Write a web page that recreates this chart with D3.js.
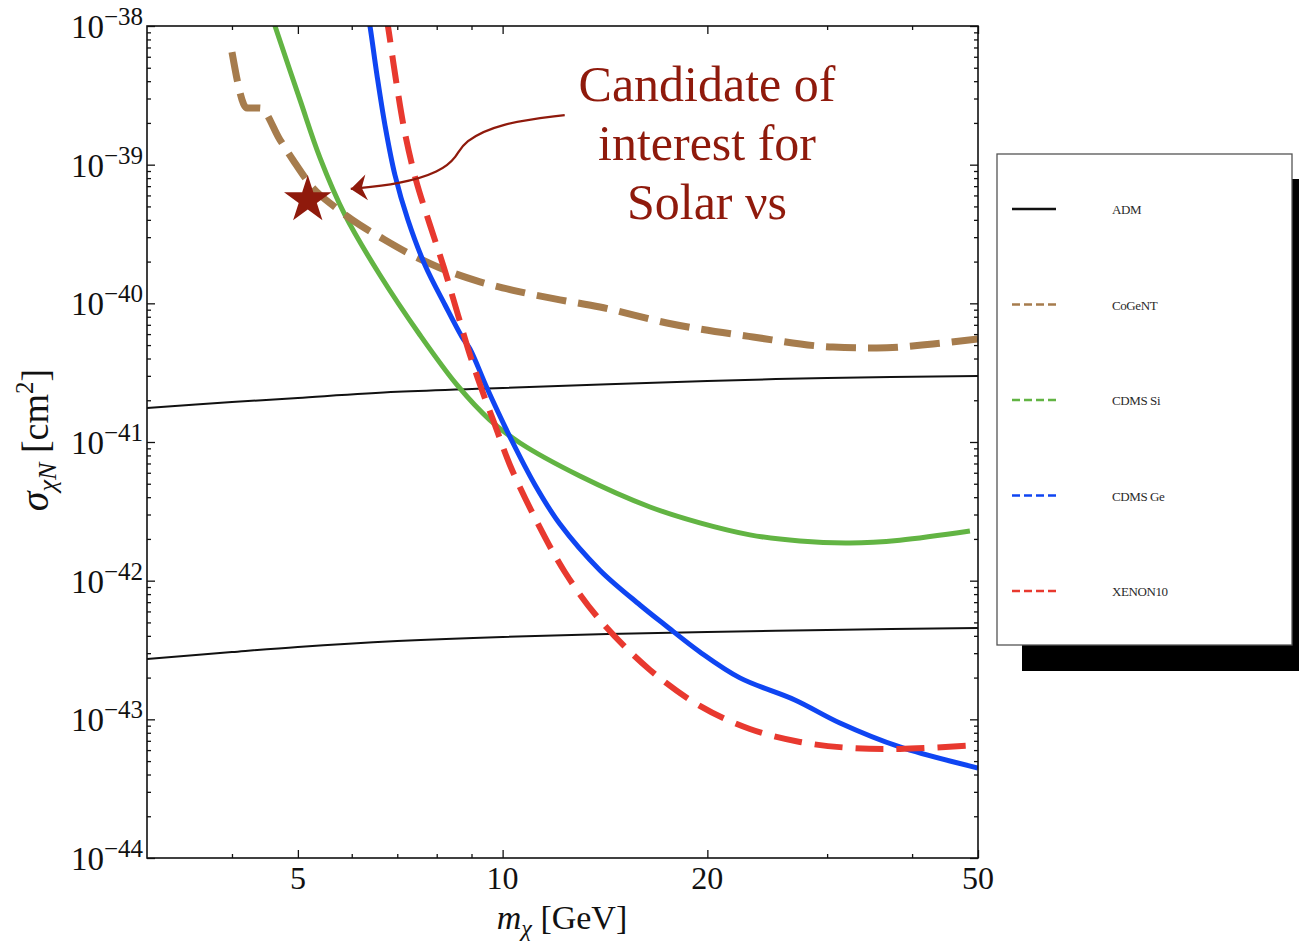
<!DOCTYPE html>
<html>
<head>
<meta charset="utf-8">
<script src="https://cdn.jsdelivr.net/npm/d3@7"></script>
<style>
  html, body { margin: 0; padding: 0; background: #ffffff; }
  svg { display: block; }
  text { font-family: "Liberation Serif", "DejaVu Serif", serif; }
</style>
</head>
<body>
<svg id="chart" width="1299" height="942"></svg>
<script>
// ---- data: dark-matter mass m_chi [GeV] vs. nucleon cross section [cm^2] ----
const admUpperMass  = [3, 4, 5, 7, 10, 20, 30, 50];
const admUpperSigma = [1.76e-41, 1.94e-41, 2.08e-41, 2.30e-41, 2.45e-41, 2.75e-41, 2.90e-41, 2.99e-41];

const admLowerMass  = [3, 4, 5, 7, 10, 20, 30, 50];
const admLowerSigma = [2.72e-43, 3.06e-43, 3.33e-43, 3.67e-43, 3.93e-43, 4.27e-43, 4.41e-43, 4.56e-43];

const cogentMass  = [4.000, 4.209, 4.398, 4.706, 4.918, 5.263, 5.668, 6.169, 6.601, 7.307, 8.091, 9.262,
                     10.61, 12.14, 13.90, 17.44, 23.34, 30.59, 35.50, 42.92, 50];
const cogentSigma = [6.49e-39, 2.56e-39, 2.56e-39, 1.51e-39, 1.08e-39, 6.79e-40, 4.95e-40, 3.67e-40, 3.01e-40, 2.27e-40,
                     1.80e-40, 1.43e-40, 1.21e-40, 1.06e-40, 9.41e-41, 7.22e-41, 5.72e-41, 4.84e-41, 4.76e-41, 5.09e-41, 5.53e-41];

const cdmsSiMass  = [4.55, 4.627, 5.036, 5.389, 5.863, 6.601, 7.559, 8.569, 9.580, 10.61, 12.99, 16.47,
                     19.50, 23.10, 27.36, 32.41, 38.38, 48.65];
const cdmsSiSigma = [1.30e-38, 1.0e-38, 2.93e-39, 1.12e-39, 4.34e-40, 1.60e-40, 5.91e-41, 2.58e-41, 1.44e-41, 9.84e-42,
                     5.69e-42, 3.40e-42, 2.61e-42, 2.14e-42, 1.93e-42, 1.87e-42, 1.96e-42, 2.28e-42];

const cdmsGeMass  = [6.338, 6.382, 6.535, 6.714, 6.945, 7.258, 7.688, 8.229, 8.715, 8.954, 9.484, 10.25,
                     11.16, 12.14, 13.90, 15.92, 17.33, 19.50, 22.33, 26.90, 31.33, 38.38, 50];
const cdmsGeSigma = [1.20e-38, 1.0e-38, 4.43e-39, 1.93e-39, 8.42e-40, 3.99e-40, 1.89e-40, 9.73e-41, 5.72e-41, 4.69e-41,
                     2.45e-41, 1.09e-41, 4.90e-42, 2.56e-42, 1.19e-42, 6.68e-43, 4.79e-43, 3.06e-43, 1.99e-43, 1.38e-43,
                     9.41e-44, 6.32e-44, 4.46e-44];

const xenonMass  = [6.737, 6.782, 6.969, 7.184, 7.457, 7.820, 8.201, 8.598, 8.954, 9.324, 9.743, 10.25,
                    11.16, 12.35, 13.90, 16.47, 19.50, 23.10, 27.36, 32.41, 38.38, 50];
const xenonSigma = [1.20e-38, 1.0e-38, 4.08e-39, 1.69e-39, 7.75e-40, 3.67e-40, 1.80e-40, 8.24e-41, 4.24e-41, 2.37e-41,
                    1.33e-41, 6.83e-42, 2.83e-42, 1.15e-42, 5.21e-43, 2.27e-43, 1.25e-43, 8.52e-44, 6.87e-44, 6.22e-44,
                    6.11e-44, 6.53e-44];

// highlighted candidate point and the pointer leading to it
const candidateMass  = [5.17];
const candidateSigma = [5.56e-40];
const pointerMass  = [12.34, 9.90, 8.74, 8.57, 8.09, 7.07, 5.98];
const pointerSigma = [2.28e-39, 2.00e-39, 1.46e-39, 1.14e-39, 8.85e-40, 7.26e-40, 6.68e-40];
const noteLines = ["Candidate of", "interest for", "Solar \u03BDs"];

// axis ticks
const xMajorTicks = [5, 10, 20, 50];
const xMinorTicks = [4, 6, 7, 8, 9, 30, 40];
const yExponents  = [-44, -43, -42, -41, -40, -39, -38];

const legendNames = ["ADM", "CoGeNT", "CDMS Si", "CDMS Ge", "XENON10"];

// ---- layout ----
const svg = d3.select("#chart");
const plot = { left: 147, top: 26, right: 978, bottom: 858 };

const x = d3.scaleLog().domain([3, 50]).range([plot.left, plot.right]);
const y = d3.scaleLog().domain([1e-44, 1e-38]).range([plot.bottom, plot.top]);

const colors = {
  adm: "#111111",
  cogent: "#a67c4d",
  si: "#62b443",
  ge: "#0f45f2",
  xenon: "#e8392f",
  note: "#8f1a0c"
};

svg.append("defs").append("clipPath").attr("id", "plotClip")
  .append("rect")
  .attr("x", plot.left).attr("y", plot.top)
  .attr("width", plot.right - plot.left).attr("height", plot.bottom - plot.top);

// ---- curves ----
const zip = (ms, ss) => ms.map((m, i) => [m, ss[i]]);
const smoothLine = d3.line()
  .x(d => x(d[0]))
  .y(d => y(d[1]))
  .curve(d3.curveCatmullRom.alpha(0.5));
const stepLine = d3.line()
  .x(d => x(d[0]))
  .y(d => y(d[1]))
  .curve(d3.curveMonotoneX);

const curves = svg.append("g").attr("clip-path", "url(#plotClip)");

const series = [
  { data: zip(admUpperMass, admUpperSigma), gen: smoothLine, color: colors.adm, width: 2, dash: null },
  { data: zip(admLowerMass, admLowerSigma), gen: smoothLine, color: colors.adm, width: 2, dash: null },
  { data: zip(cdmsSiMass, cdmsSiSigma), gen: smoothLine, color: colors.si, width: 5, dash: null },
  { data: zip(cogentMass, cogentSigma), gen: stepLine, color: colors.cogent, width: 7, dash: "30,12" },
  { data: zip(cdmsGeMass, cdmsGeSigma), gen: smoothLine, color: colors.ge, width: 5, dash: null },
  { data: zip(xenonMass, xenonSigma), gen: smoothLine, color: colors.xenon, width: 6, dash: "28,13" }
];

series.forEach(s => {
  curves.append("path")
    .datum(s.data)
    .attr("d", s.gen)
    .attr("fill", "none")
    .attr("stroke", s.color)
    .attr("stroke-width", s.width)
    .attr("stroke-dasharray", s.dash)
    .attr("stroke-linejoin", "round");
});

// ---- frame and ticks ----
const minorY = [];
for (let e = -44; e < -38; e++) {
  for (let k = 2; k <= 9; k++) minorY.push(k * Math.pow(10, e));
}
const majorY = yExponents.map(e => Math.pow(10, e));

function styleAxis(g) {
  g.select(".domain").remove();
  g.selectAll(".tick line").attr("stroke", "#111").attr("stroke-width", 1.3);
}

svg.append("g").attr("transform", `translate(0,${plot.bottom})`)
  .call(d3.axisBottom(x).tickValues(xMajorTicks).tickSize(-8).tickFormat("")).call(styleAxis);
svg.append("g").attr("transform", `translate(0,${plot.bottom})`)
  .call(d3.axisBottom(x).tickValues(xMinorTicks).tickSize(-4).tickFormat("")).call(styleAxis);
svg.append("g").attr("transform", `translate(0,${plot.top})`)
  .call(d3.axisTop(x).tickValues(xMajorTicks).tickSize(-8).tickFormat("")).call(styleAxis);
svg.append("g").attr("transform", `translate(0,${plot.top})`)
  .call(d3.axisTop(x).tickValues(xMinorTicks).tickSize(-4).tickFormat("")).call(styleAxis);

svg.append("g").attr("transform", `translate(${plot.left},0)`)
  .call(d3.axisLeft(y).tickValues(majorY).tickSize(-8).tickFormat("")).call(styleAxis);
svg.append("g").attr("transform", `translate(${plot.left},0)`)
  .call(d3.axisLeft(y).tickValues(minorY).tickSize(-4).tickFormat("")).call(styleAxis);
svg.append("g").attr("transform", `translate(${plot.right},0)`)
  .call(d3.axisRight(y).tickValues(majorY).tickSize(-8).tickFormat("")).call(styleAxis);
svg.append("g").attr("transform", `translate(${plot.right},0)`)
  .call(d3.axisRight(y).tickValues(minorY).tickSize(-4).tickFormat("")).call(styleAxis);

svg.append("rect")
  .attr("x", plot.left).attr("y", plot.top)
  .attr("width", plot.right - plot.left).attr("height", plot.bottom - plot.top)
  .attr("fill", "none").attr("stroke", "#111").attr("stroke-width", 1.6);

// tick labels: powers of ten on y, plain numbers on x
const yLabels = svg.append("g");
yExponents.forEach(e => {
  const t = yLabels.append("text")
    .attr("x", plot.left - 4)
    .attr("y", y(Math.pow(10, e)) + 12)
    .attr("text-anchor", "end")
    .attr("fill", "#111")
    .attr("font-size", 33);
  t.append("tspan").text("10");
  t.append("tspan").attr("dy", -13).attr("font-size", 25).text("\u2212" + Math.abs(e));
});

svg.append("g").selectAll("text").data(xMajorTicks).join("text")
  .attr("x", d => x(d))
  .attr("y", plot.bottom + 31)
  .attr("text-anchor", "middle")
  .attr("fill", "#111")
  .attr("font-size", 32)
  .text(d => d);

// axis titles
const xTitle = svg.append("text")
  .attr("x", 562).attr("y", 929)
  .attr("text-anchor", "middle")
  .attr("fill", "#111")
  .attr("font-size", 34);
xTitle.append("tspan").attr("font-style", "italic").text("m");
xTitle.append("tspan").attr("font-style", "italic").attr("font-size", 24).attr("dy", 7).text("\u03C7");
xTitle.append("tspan").attr("dy", -7).text(" [GeV]");

const yTitle = svg.append("text")
  .attr("transform", "translate(48,440) rotate(-90)")
  .attr("text-anchor", "middle")
  .attr("fill", "#111")
  .attr("font-size", 38);
yTitle.append("tspan").attr("font-style", "italic").attr("font-size", 40).text("\u03C3");
yTitle.append("tspan").attr("font-style", "italic").attr("font-size", 26).attr("dy", 8).text("\u03C7N");
yTitle.append("tspan").attr("dy", -8).text(" [cm");
yTitle.append("tspan").attr("font-size", 25).attr("dy", -15).text("2");
yTitle.append("tspan").attr("dy", 15).text("]");

// ---- annotation: candidate star, pointer and note ----
svg.append("path")
  .attr("d", d3.symbol().type(d3.symbolStar).size(700)())
  .attr("transform", `translate(${x(candidateMass[0])},${y(candidateSigma[0])})`)
  .attr("fill", colors.note);

svg.select("defs").append("marker")
  .attr("id", "arrowHead")
  .attr("markerUnits", "userSpaceOnUse")
  .attr("viewBox", "-20 -15 24 30")
  .attr("markerWidth", 24).attr("markerHeight", 30)
  .attr("refX", 0).attr("refY", 0)
  .attr("orient", "auto")
  .append("path")
  .attr("d", "M0,0 L-16,-13 L-11,0 L-16,13 Z")
  .attr("fill", colors.note);

svg.append("path")
  .datum(zip(pointerMass, pointerSigma))
  .attr("d", d3.line().x(d => x(d[0])).y(d => y(d[1])).curve(d3.curveBasis))
  .attr("fill", "none")
  .attr("stroke", colors.note)
  .attr("stroke-width", 2.3)
  .attr("marker-end", "url(#arrowHead)");

svg.append("g").selectAll("text").data(noteLines).join("text")
  .attr("x", 707)
  .attr("y", (d, i) => 101 + i * 59)
  .attr("text-anchor", "middle")
  .attr("fill", colors.note)
  .attr("font-size", 50)
  .text(d => d);

// ---- legend ----
const legend = svg.append("g");
legend.append("rect")
  .attr("x", 1022).attr("y", 179).attr("width", 300).attr("height", 492)
  .attr("fill", "#000");
legend.append("rect")
  .attr("x", 997).attr("y", 154).attr("width", 295).attr("height", 491)
  .attr("fill", "#fff").attr("stroke", "#555").attr("stroke-width", 1.3);

const legendStyles = [
  { color: colors.adm, dash: null },
  { color: colors.cogent, dash: "8,4" },
  { color: colors.si, dash: "8,4" },
  { color: colors.ge, dash: "8,4" },
  { color: colors.xenon, dash: "8,4" }
];
const legendY = d3.scalePoint().domain(legendNames).range([209, 591]);

legend.selectAll("line.key").data(legendNames).join("line")
  .attr("class", "key")
  .attr("x1", 1012).attr("x2", 1056)
  .attr("y1", d => legendY(d)).attr("y2", d => legendY(d))
  .attr("stroke", (d, i) => legendStyles[i].color)
  .attr("stroke-width", 2.6)
  .attr("stroke-dasharray", (d, i) => legendStyles[i].dash);

legend.selectAll("text").data(legendNames).join("text")
  .attr("x", 1112)
  .attr("y", d => legendY(d) + 5)
  .attr("fill", "#2a2a2a")
  .attr("font-size", 13)
  .attr("letter-spacing", -0.4)
  .text(d => d);
</script>
</body>
</html>
